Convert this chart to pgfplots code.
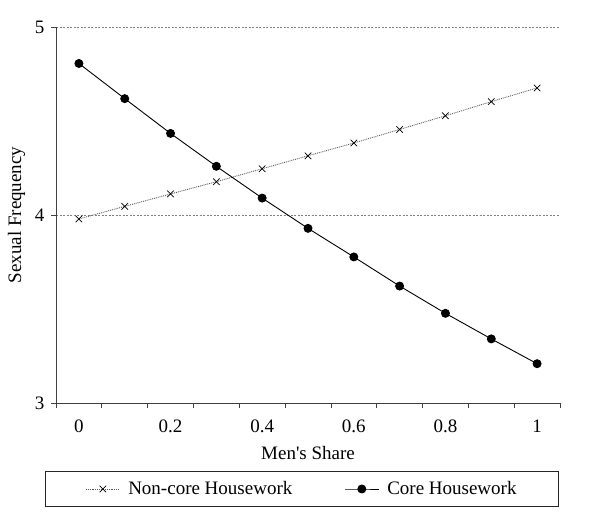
\documentclass[border=0pt]{standalone}
\usepackage{fontspec}
\setmainfont{Liberation Serif}
\usepackage{pgfplots}
\usepackage{pgfplotstable}
\pgfplotsset{compat=1.18}

\pgfplotstableread{
share noncore core
0.0 3.979 4.806
0.1 4.046 4.619
0.2 4.112 4.434
0.3 4.177 4.259
0.4 4.246 4.090
0.5 4.315 3.929
0.6 4.383 3.777
0.7 4.455 3.622
0.8 4.528 3.477
0.9 4.603 3.341
1.0 4.676 3.209
}\housework

\begin{document}
\fontsize{19}{23}\selectfont
\begin{tikzpicture}
\begin{axis}[
  at={(56pt,122pt)}, anchor=south west,
  scale only axis, width=504pt, height=376pt,
  xmin=-0.05, xmax=1.05, ymin=3, ymax=5,
  axis lines*=left,
  axis line style={black!75, line width=0.8pt},
  /pgf/number format/assume math mode=true,
  tick align=outside,
  major tick length=0pt,
  minor tick length=5pt,
  tick style={black!75, line width=0.8pt},
  xtick={0,0.2,0.4,0.6,0.8,1},
  minor xtick={-0.05,0.05,0.15,0.25,0.35,0.45,0.55,0.65,0.75,0.85,0.95,1.05},
  ytick={3,4,5},
  minor ytick={3,4,5},
  ymajorgrids,
  grid style={black!50, dash pattern=on 2pt off 1.5pt, line width=0.7pt},
  xticklabel style={yshift=-10pt},
  yticklabel style={xshift=-5pt},
  xlabel={Men\textquotesingle s Share},
  ylabel={Sexual Frequency},
  xlabel style={at={(axis description cs:0.5,-0.149)}, anchor=base},
  ylabel style={at={(axis description cs:-0.0694,0.5)}, anchor=base},
  legend columns=2,
  legend style={at={(axis description cs:0.488,-0.2287)}, anchor=center,
    draw=black!85, line width=0.8pt, inner xsep=40pt, inner ysep=7.5pt,
    /tikz/every odd column/.append style={column sep=6pt},
    /tikz/every even column/.append style={column sep=50pt}},
  legend image code/.code={\draw[mark repeat=2,mark phase=2,#1]
    plot coordinates {(0pt,0pt) (17pt,0pt) (34pt,0pt)};},
]
\addplot[black!65, line width=0.9pt, densely dotted,
  mark=x, mark size=4.6pt, mark options={solid, black, line width=0.7pt}]
  table[x=share, y=noncore] {\housework};
\addlegendentry{Non-core Housework}
\addplot[black, line width=0.9pt,
  mark=*, mark size=4.0pt, mark options={solid, fill=black}]
  table[x=share, y=core] {\housework};
\addlegendentry{Core Housework}
\end{axis}
\pgfresetboundingbox
\useasboundingbox (0,0) rectangle (602pt,525pt);
\end{tikzpicture}
\end{document}
